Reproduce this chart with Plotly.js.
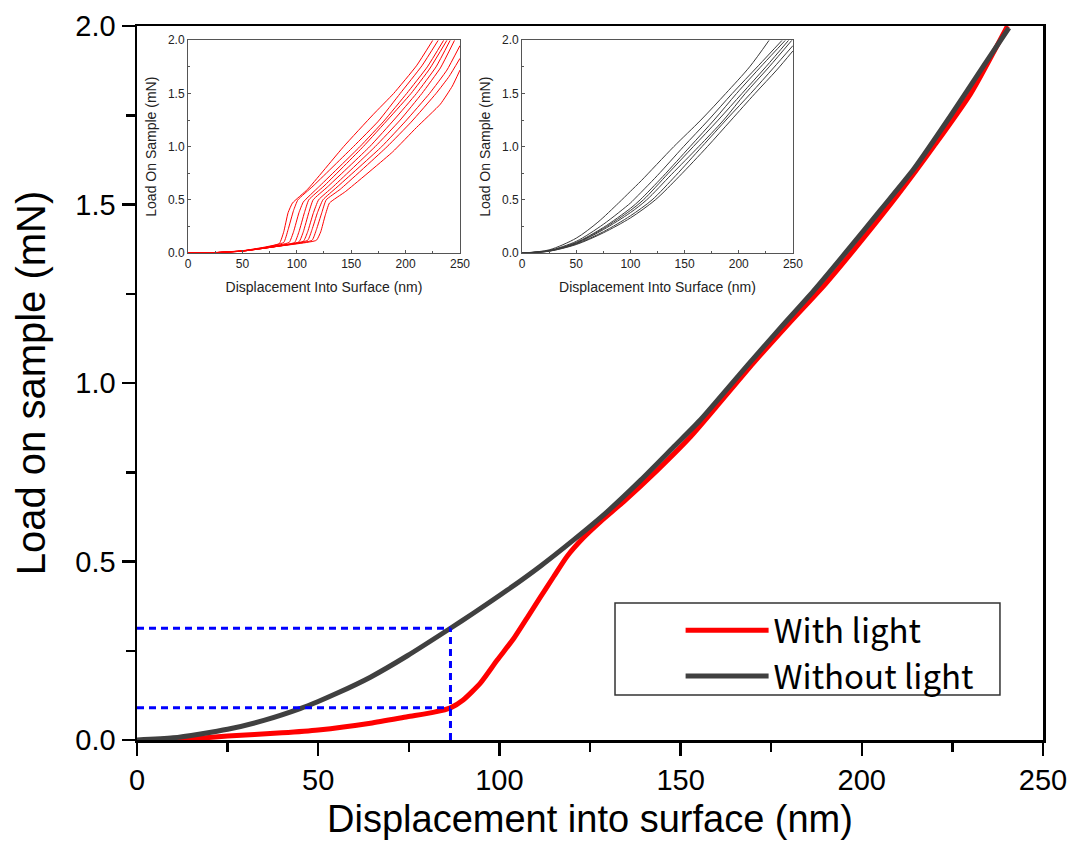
<!DOCTYPE html>
<html>
<head>
<meta charset="utf-8">
<script src="https://cdn.plot.ly/plotly-3.0.1.min.js"></script>
<style>
html,body{margin:0;padding:0;background:#fff;}
#chart{width:1084px;height:857px;}
</style>
</head>
<body>
<div id="chart"></div>
<script>
// ---------- main chart data ----------
const seriesNames = ["With light", "Without light"];

const withLightX = [11, 25, 40, 50, 64.4, 74.6, 82, 86.5, 90, 94.8, 99.4, 104, 107.7, 111.3, 115, 118.7, 123.3, 127.9, 134.3, 143.6, 152.8, 160, 170, 180, 190, 200, 210, 220, 230, 240.2];
const withLightY = [0, 0.011, 0.02, 0.028, 0.047, 0.065, 0.078, 0.09, 0.112, 0.16, 0.224, 0.285, 0.343, 0.40, 0.458, 0.515, 0.568, 0.612, 0.668, 0.756, 0.85, 0.935, 1.055, 1.168, 1.278, 1.4, 1.528, 1.665, 1.81, 2.0];

const withoutLightX = [0, 10, 25, 35, 45, 50, 55, 64.4, 74.6, 86.5, 92.8, 102.2, 111.3, 120.4, 129.8, 139, 148, 155.5, 168.5, 177.6, 186.7, 196.1, 205.2, 214.4, 224.6, 233.7, 240.6];
const withoutLightY = [0, 0.006, 0.03, 0.055, 0.088, 0.108, 0.13, 0.176, 0.236, 0.313, 0.355, 0.42, 0.487, 0.56, 0.64, 0.728, 0.82, 0.897, 1.05, 1.155, 1.258, 1.372, 1.485, 1.60, 1.75, 1.89, 1.995];

// guide lines (blue dashed)
const guideX = 86.5;
const guideLoads = [0.09, 0.313];

// ---------- inset data: with light (red), individual indents ----------
const insetLightX = [
  [0, 25, 50, 70, 84, 88, 92, 96, 110, 143, 170, 189, 210, 225],
  [0, 25, 50, 70, 88, 92, 97, 101, 115, 152, 175, 195, 215, 230],
  [0, 25, 50, 75, 93, 97, 102, 106, 120, 158, 180, 201, 220, 235],
  [0, 25, 50, 75, 98, 102, 107, 111, 125, 161, 185, 205, 222, 238],
  [0, 25, 50, 75, 102, 106, 111, 115, 128, 167, 190, 210, 228, 241],
  [0, 25, 50, 80, 106, 110, 115, 120, 133, 172, 195, 215, 232, 245],
  [0, 25, 50, 80, 110, 114, 119, 124, 137, 178, 200, 222, 238, 250],
  [0, 25, 50, 80, 114, 118, 123, 127, 140, 183, 205, 228, 240, 250],
  [0, 25, 50, 80, 118, 122, 126, 130, 145, 188, 210, 232, 243, 250]
];
const insetLightY = [
  [0, 0.005, 0.02, 0.05, 0.09, 0.2, 0.38, 0.47, 0.6, 1.0, 1.3, 1.5, 1.76, 2.0],
  [0, 0.005, 0.022, 0.055, 0.1, 0.22, 0.4, 0.5, 0.63, 1.0, 1.24, 1.5, 1.76, 2.0],
  [0, 0.004, 0.02, 0.06, 0.1, 0.2, 0.38, 0.48, 0.62, 1.0, 1.24, 1.5, 1.75, 2.0],
  [0, 0.004, 0.02, 0.055, 0.1, 0.2, 0.38, 0.5, 0.63, 1.0, 1.27, 1.5, 1.73, 2.0],
  [0, 0.004, 0.02, 0.055, 0.105, 0.2, 0.38, 0.5, 0.62, 1.0, 1.26, 1.5, 1.75, 2.0],
  [0, 0.004, 0.018, 0.06, 0.11, 0.2, 0.37, 0.5, 0.62, 1.0, 1.25, 1.5, 1.74, 2.0],
  [0, 0.004, 0.018, 0.06, 0.12, 0.22, 0.38, 0.5, 0.62, 1.0, 1.24, 1.5, 1.72, 1.95],
  [0, 0.004, 0.018, 0.06, 0.12, 0.22, 0.38, 0.5, 0.6, 1.0, 1.23, 1.5, 1.66, 1.83],
  [0, 0.004, 0.018, 0.06, 0.12, 0.2, 0.35, 0.47, 0.58, 0.95, 1.18, 1.4, 1.57, 1.72]
];

// ---------- inset data: without light (grey), individual indents ----------
const insetDarkX = [
  [0, 25, 50, 70, 89, 100, 110, 140, 165, 188, 210, 228],
  [0, 25, 50, 75, 100, 103, 125, 149, 172, 194, 218, 240],
  [0, 25, 50, 75, 100, 109, 130, 155, 178, 198, 222, 243],
  [0, 25, 50, 75, 100, 112, 135, 158, 181, 203, 225, 246],
  [0, 25, 50, 75, 100, 115, 138, 163, 186, 206, 228, 249],
  [0, 25, 50, 75, 100, 120, 142, 166, 190, 211, 232, 250],
  [0, 25, 50, 75, 100, 123, 145, 171, 193, 215, 235, 250]
];
const insetDarkY = [
  [0, 0.03, 0.14, 0.29, 0.47, 0.58, 0.68, 1.0, 1.25, 1.5, 1.75, 2.0],
  [0, 0.025, 0.11, 0.27, 0.47, 0.5, 0.73, 1.0, 1.25, 1.5, 1.76, 2.0],
  [0, 0.022, 0.1, 0.24, 0.42, 0.5, 0.72, 1.0, 1.26, 1.5, 1.77, 2.0],
  [0, 0.02, 0.095, 0.23, 0.4, 0.5, 0.75, 1.0, 1.25, 1.5, 1.75, 2.0],
  [0, 0.02, 0.09, 0.22, 0.38, 0.5, 0.74, 1.0, 1.25, 1.5, 1.75, 2.0],
  [0, 0.018, 0.085, 0.2, 0.35, 0.5, 0.73, 1.0, 1.27, 1.5, 1.74, 1.95],
  [0, 0.017, 0.08, 0.19, 0.33, 0.5, 0.72, 1.0, 1.25, 1.5, 1.72, 1.9]
];

// ---------- text ----------
const mainXTitle = "Displacement into surface (nm)";
const mainYTitle = "Load on sample (mN)";
const insetXTitle = "Displacement Into Surface (nm)";
const insetYTitle = "Load On Sample (mN)";

// ---------- build traces ----------
const RED = "#ff0000";
const DARK = "#404040";
const traces = [];

insetLightX.forEach((xs, i) => {
  traces.push({x: xs, y: insetLightY[i], xaxis: "x2", yaxis: "y2", type: "scatter", mode: "lines",
    line: {color: RED, width: 1, shape: "spline", smoothing: 0.4}, showlegend: false, hoverinfo: "skip"});
});
insetDarkX.forEach((xs, i) => {
  traces.push({x: xs, y: insetDarkY[i], xaxis: "x3", yaxis: "y3", type: "scatter", mode: "lines",
    line: {color: "#3a3a3a", width: 1, shape: "spline", smoothing: 0.8}, showlegend: false, hoverinfo: "skip"});
});
traces.push({x: withLightX, y: withLightY, name: seriesNames[0], type: "scatter", mode: "lines",
  line: {color: RED, width: 5, shape: "spline", smoothing: 0.6}});
traces.push({x: withoutLightX, y: withoutLightY, name: seriesNames[1], type: "scatter", mode: "lines",
  line: {color: DARK, width: 5, shape: "spline", smoothing: 0.6}});

const mainFont = "Liberation Sans, Arial, sans-serif";
const insetFont = "Liberation Sans, Arial, sans-serif";

function insetX(domain, anchor) {
  return {domain: domain, anchor: anchor, range: [0, 250], dtick: 50, tick0: 0,
    showline: true, linecolor: "#555", linewidth: 1, mirror: true,
    ticks: "inside", ticklen: 3, tickwidth: 1, tickcolor: "#555",
    minor: {dtick: 25, ticks: "inside", ticklen: 2, tickcolor: "#555"},
    showgrid: false, zeroline: false,
    tickfont: {family: insetFont, size: 12, color: "#222"},
    title: {text: insetXTitle, font: {family: insetFont, size: 14, color: "#222"}, standoff: 11}};
}
function insetY(domain, anchor) {
  return {domain: domain, anchor: anchor, range: [0, 2.0], dtick: 0.5, tick0: 0, tickformat: ".1f",
    showline: true, linecolor: "#555", linewidth: 1, mirror: true,
    ticks: "inside", ticklen: 3, tickwidth: 1, tickcolor: "#555",
    minor: {dtick: 0.25, ticks: "inside", ticklen: 2, tickcolor: "#555"},
    showgrid: false, zeroline: false,
    tickfont: {family: insetFont, size: 12, color: "#222"},
    title: {text: insetYTitle, font: {family: insetFont, size: 14, color: "#222"}, standoff: 8}};
}

const layout = {
  width: 1084, height: 857,
  margin: {l: 137, r: 41, t: 26, b: 117},
  paper_bgcolor: "#fff", plot_bgcolor: "#fff",
  showlegend: true,
  legend: {x: 0.6, y: 0.193, xanchor: "left", yanchor: "top", bgcolor: "rgba(0,0,0,0)", borderwidth: 0,
    font: {family: "Noto Sans CJK KR, Noto Sans, sans-serif", size: 33, color: "#000"},
    itemwidth: 83, tracegroupgap: 0, traceorder: "normal"},
  xaxis: {range: [0, 250], dtick: 50, tick0: 0, showline: true, linecolor: "#000", linewidth: 2.5, mirror: true,
    ticks: "outside", ticklen: 13, tickwidth: 2.5, tickcolor: "#000",
    minor: {dtick: 25, ticks: "outside", ticklen: 9, tickwidth: 2.5, tickcolor: "#000"},
    showgrid: false, zeroline: false,
    tickfont: {family: mainFont, size: 29, color: "#000"},
    title: {text: mainXTitle, font: {family: mainFont, size: 38, color: "#000"}, standoff: 10}},
  yaxis: {range: [0, 2.0], dtick: 0.5, tick0: 0, tickformat: ".1f", showline: true, linecolor: "#000", linewidth: 2.5, mirror: true,
    ticks: "outside", ticklen: 13, tickwidth: 2.5, tickcolor: "#000",
    minor: {dtick: 0.25, ticks: "outside", ticklen: 9, tickwidth: 2.5, tickcolor: "#000"},
    showgrid: false, zeroline: false,
    tickfont: {family: mainFont, size: 29, color: "#000"},
    title: {text: mainYTitle, font: {family: mainFont, size: 40, color: "#000"}, standoff: 18}},
  xaxis2: insetX([0.0563, 0.3565], "y2"),
  yaxis2: insetY([0.682, 0.980], "x2"),
  xaxis3: insetX([0.425, 0.724], "y3"),
  yaxis3: insetY([0.682, 0.980], "x3"),
  shapes: [
    {type: "line", xref: "x", yref: "y", x0: 0, x1: guideX, y0: guideLoads[0], y1: guideLoads[0],
      line: {color: "#0000ff", width: 3, dash: "7px,5px"}},
    {type: "line", xref: "x", yref: "y", x0: 0, x1: guideX, y0: guideLoads[1], y1: guideLoads[1],
      line: {color: "#0000ff", width: 3, dash: "7px,5px"}},
    {type: "line", xref: "x", yref: "y", x0: guideX, x1: guideX, y0: 0, y1: guideLoads[1],
      line: {color: "#0000ff", width: 3, dash: "7px,5px"}},
    {type: "rect", xref: "paper", yref: "paper", x0: 0.5276, x1: 0.9525, y0: 0.063, y1: 0.1919,
      line: {color: "#333", width: 1.5}, fillcolor: "rgba(0,0,0,0)"}
  ]
};

Plotly.newPlot("chart", traces, layout, {staticPlot: true, displayModeBar: false});
</script>
</body>
</html>
